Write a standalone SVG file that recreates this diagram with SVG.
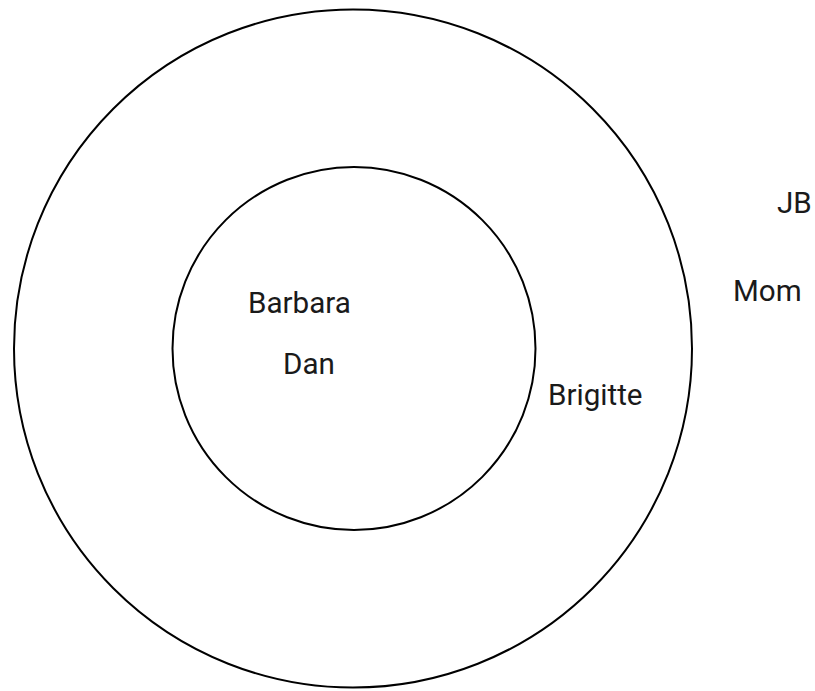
<svg xmlns="http://www.w3.org/2000/svg" width="815" height="691" viewBox="0 0 815 691">
<style>
.ring{fill:none;stroke:#000;stroke-width:2}
.lbl{font-family:Roboto,"Liberation Sans",sans-serif;font-size:29.6px;fill:#1a1a1a}
</style>
<rect width="815" height="691" fill="#fff"/>
<g id="outer"><circle class="ring" cx="353" cy="348.5" r="339"/></g>
<g id="inner"><circle class="ring" cx="354" cy="348.5" r="181.5"/></g>
<g id="barbara"><text class="lbl" x="248" y="313">Barbara</text></g>
<g id="dan"><text class="lbl" x="283" y="374">Dan</text></g>
<g id="brigitte"><text class="lbl" x="548" y="405">Brigitte</text></g>
<g id="mom"><text class="lbl" x="733" y="301">Mom</text></g>
<g id="jb"><text class="lbl" x="777" y="213">JB</text></g>
<g id="connectors"></g>
</svg>
